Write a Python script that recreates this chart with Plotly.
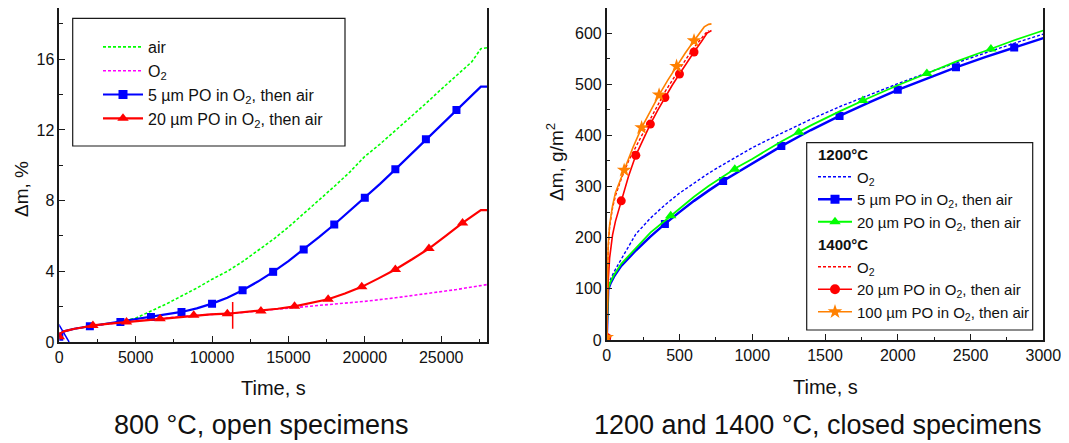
import plotly.graph_objects as go

# The page body adds an 8 px offset, so the figure is drawn 8 px smaller and
# all reference pixel positions are shifted by that amount.
OFF = 8
W, H = 1069 - OFF, 443 - OFF
FONT = "Liberation Sans, Arial, sans-serif"

# ---------------- Left panel: 800 °C, open specimens ----------------
t_air = [0, 100, 300, 600, 1000, 1500, 2000, 3000, 4000, 5000, 6000, 7000, 8000, 9000,
         10000, 11000, 12000, 13000, 14000, 15000, 16000, 17000, 18000, 19000, 20000,
         21000, 22000, 23000, 24000, 25000, 26000, 27000, 27600, 28000]
dm_air = [0.3, 0.5, 0.6, 0.68, 0.75, 0.82, 0.88, 1.0, 1.15, 1.35, 1.75, 2.15, 2.6, 3.05,
          3.55, 4.0, 4.55, 5.15, 5.8, 6.5, 7.25, 8.0, 8.8, 9.6, 10.5,
          11.2, 11.95, 12.75, 13.5, 14.3, 15.05, 15.85, 16.6, 16.65]

t_o2_800 = [0, 100, 300, 600, 1000, 1500, 2000, 4000, 6000, 8000, 10000, 12000, 14000,
            16000, 18000, 20000, 22000, 24000, 26000, 28000]
dm_o2_800 = [0.3, 0.5, 0.6, 0.68, 0.75, 0.82, 0.9, 1.1, 1.28, 1.45, 1.56, 1.67, 1.84,
             1.98, 2.12, 2.3, 2.5, 2.72, 2.97, 3.25]

t_po5_800 = [0, 100, 300, 600, 1000, 1500, 2000, 3000, 4000, 5000, 6000, 7000, 8000, 9000,
             10000, 11000, 12000, 13000, 14000, 15000, 16000, 17000, 18000, 19000, 20000,
             21000, 22000, 23000, 24000, 25000, 26000, 27000, 27600, 28000]
dm_po5_800 = [0.3, 0.5, 0.6, 0.68, 0.75, 0.82, 0.89, 1.0, 1.13, 1.27, 1.42, 1.55, 1.7, 1.9,
              2.17, 2.5, 2.93, 3.42, 3.97, 4.58, 5.23, 5.93, 6.65, 7.4, 8.16,
              8.95, 9.77, 10.6, 11.47, 12.3, 13.13, 13.95, 14.45, 14.45]
t_po5_800_mk = [0, 2000, 4000, 6000, 8000, 10000, 12000, 14000, 16000, 18000, 20000,
                22000, 24000, 26000]
dm_po5_800_mk = [0.3, 0.89, 1.13, 1.42, 1.7, 2.17, 2.93, 3.97, 5.23, 6.65, 8.16,
                 9.77, 11.47, 13.13]

t_po20_800 = [0, 100, 300, 600, 1000, 1500, 2200, 3300, 4400, 5500, 6600, 7700, 8800, 9900,
              11000, 12100, 13200, 14300, 15400, 16500, 17600, 18700, 19800, 20900, 22000,
              23100, 24200, 25300, 26400, 27600, 28000]
dm_po20_800 = [0.3, 0.5, 0.6, 0.68, 0.75, 0.82, 0.94, 1.04, 1.13, 1.23, 1.32, 1.42, 1.51, 1.56,
               1.6, 1.68, 1.76, 1.88, 2.02, 2.2, 2.42, 2.74, 3.12, 3.6, 4.1,
               4.68, 5.29, 6.0, 6.74, 7.46, 7.46]
t_po20_800_mk = [0, 2200, 4400, 6600, 8800, 11000, 13200, 15400, 17600, 19800, 22000,
                 24200, 26400]
dm_po20_800_mk = [0.3, 0.94, 1.13, 1.32, 1.51, 1.6, 1.76, 2.02, 2.42, 3.12, 4.1,
                  5.29, 6.74]

# stray straight blue segment near the origin and the red switch mark
t_blue_stray = [-220, 640]
dm_blue_stray = [1.27, 0.0]
t_red_mark = [11350, 11350]
dm_red_mark = [0.75, 2.27]

# ---------------- Right panel: 1200 and 1400 °C, closed specimens ----------------
t_1200 = [0, 5, 10, 25, 50, 100, 200, 300, 400, 500, 600, 700, 800, 900, 1000,
          1200, 1400, 1600, 1800, 2000, 2200, 2400, 2600, 2800, 3000]
dm_o2_1200 = [0, 75, 105, 118, 133, 158, 207, 238, 264, 287, 307, 326, 343, 360, 376,
              404, 431, 456, 479, 501, 522, 542, 561, 580, 598]
dm_po5_1200 = [0, 62, 98, 110, 124, 145, 175, 202, 227, 250, 272, 292, 311, 328, 345,
               379, 410, 438, 464, 489, 511, 533, 553, 572, 590]
dm_po20_1200 = [0, 62, 100, 113, 127, 149, 180, 210, 233, 257, 280, 301, 320, 338, 354,
                388, 419, 447, 473, 498, 521, 544, 565, 586, 605]
t_po5_1200_mk = [0, 400, 800, 1200, 1600, 2000, 2400, 2800]
dm_po5_1200_mk = [0, 227, 311, 379, 438, 489, 533, 572]
t_po20_1200_mk = [0, 440, 880, 1320, 1760, 2200, 2640]
dm_po20_1200_mk = [0, 243, 334, 406, 468, 521, 569]

t_o2_1400 = [0, 5, 10, 20, 40, 60, 100, 150, 200, 300, 400, 500, 600, 650, 690, 700]
dm_o2_1400 = [0, 110, 175, 222, 258, 282, 315, 350, 378, 432, 485, 530, 572, 590, 603, 605]
t_po20_1400 = [0, 5, 10, 20, 40, 60, 100, 150, 200, 250, 300, 350, 400, 450, 500, 550,
               600, 650, 690, 720]
dm_po20_1400 = [5, 85, 115, 160, 205, 232, 272, 320, 361, 393, 422, 449, 474, 498, 520, 542,
                563, 583, 600, 605]
t_po20_1400_mk = [0, 100, 200, 300, 400, 500, 600]
dm_po20_1400_mk = [5, 272, 361, 422, 474, 520, 563]
t_po100_1400 = [0, 5, 10, 20, 40, 60, 120, 180, 240, 300, 360, 420, 480, 540, 600, 640,
                670, 700, 720]
dm_po100_1400 = [5, 120, 185, 225, 262, 288, 332, 376, 415, 448, 479, 508, 535, 561, 585, 600,
                 612, 617, 618]
t_po100_1400_mk = [0, 120, 240, 360, 480, 600]
dm_po100_1400_mk = [5, 332, 415, 479, 535, 585]

# labels
x_title = "Time, s"
y_title_left = "\u0394m, %"
y_title_right = "\u0394m, g/m<sup>2</sup>"
caption_left = "800 \u00b0C, open specimens"
caption_right = "1200 and 1400 \u00b0C, closed specimens"

GREEN = "#00ff00"
MAGENTA = "#ff00ff"
BLUE = "#0000ff"
RED = "#ff0000"
ORANGE = "#ff8000"
DOT = "3px,2px"


def px(x):
    return min(max((x - OFF) / W, 0.0), 1.0)


def py(y):
    return min(max(1 - (y - OFF) / H, 0.0), 1.0)


fig = go.Figure()


def curve(x, y, color, width, dash=None, xa="x", ya="y"):
    fig.add_trace(go.Scatter(x=x, y=y, mode="lines", xaxis=xa, yaxis=ya,
                             line=dict(color=color, width=width, dash=dash),
                             showlegend=False, hoverinfo="skip"))


def marks(x, y, color, symbol, size, xa="x", ya="y"):
    fig.add_trace(go.Scatter(x=x, y=y, mode="markers", xaxis=xa, yaxis=ya,
                             marker=dict(color=color, symbol=symbol, size=size, line=dict(width=0)),
                             showlegend=False, hoverinfo="skip"))


def legend_entry(name, color, width, dash=None, symbol=None, size=8, legend="legend",
                 group=None, gtitle=None, xa="x", ya="y"):
    kw = {}
    if group:
        kw["legendgroup"] = group
        if gtitle:
            kw["legendgrouptitle"] = dict(text=gtitle, font=dict(family=FONT, size=15, color="#111"))
    fig.add_trace(go.Scatter(x=[None], y=[None], xaxis=xa, yaxis=ya, name=name,
                             mode="lines+markers" if symbol else "lines",
                             line=dict(color=color, width=width, dash=dash),
                             marker=dict(color=color, symbol=symbol or "circle", size=size,
                                         line=dict(width=0)),
                             legend=legend, showlegend=True, **kw))


# ---- left traces
curve(t_air, dm_air, GREEN, 1.6, DOT)
curve(t_o2_800, dm_o2_800, MAGENTA, 1.6, DOT)
curve(t_po5_800, dm_po5_800, BLUE, 2.2)
marks(t_po5_800_mk, dm_po5_800_mk, BLUE, "square", 8)
curve(t_blue_stray, dm_blue_stray, BLUE, 1.5)
curve(t_po20_800, dm_po20_800, RED, 2.2)
marks(t_po20_800_mk, dm_po20_800_mk, RED, "triangle-up", 10)
curve(t_red_mark, dm_red_mark, RED, 1.5)

legend_entry("air", GREEN, 1.6, DOT)
legend_entry("O<sub>2</sub>", MAGENTA, 1.6, DOT)
legend_entry("5 \u00b5m PO in O<sub>2</sub>, then air", BLUE, 2.2, None, "square", 9)
legend_entry("20 \u00b5m PO in O<sub>2</sub>, then air", RED, 2.2, None, "triangle-up", 10)

# ---- right traces
R = dict(xa="x2", ya="y2")
curve(t_1200, dm_o2_1200, BLUE, 1.4, DOT, **R)
curve(t_1200, dm_po5_1200, BLUE, 2.5, **R)
marks(t_po5_1200_mk, dm_po5_1200_mk, BLUE, "square", 8, **R)
curve(t_1200, dm_po20_1200, GREEN, 1.8, **R)
marks(t_po20_1200_mk, dm_po20_1200_mk, GREEN, "triangle-up", 10, **R)
curve(t_o2_1400, dm_o2_1400, RED, 1.4, DOT, **R)
curve(t_po20_1400, dm_po20_1400, RED, 1.6, **R)
marks(t_po20_1400_mk, dm_po20_1400_mk, RED, "circle", 9, **R)
curve(t_po100_1400, dm_po100_1400, ORANGE, 1.6, **R)
marks(t_po100_1400_mk, dm_po100_1400_mk, ORANGE, "star", 11, **R)

legend_entry("O<sub>2</sub>", BLUE, 1.4, DOT, legend="legend2", group="g1200",
             gtitle="<b>1200\u00b0C</b>", **R)
legend_entry("5 \u00b5m PO in O<sub>2</sub>, then air", BLUE, 2.5, None, "square", 9,
             legend="legend2", group="g1200", **R)
legend_entry("20 \u00b5m PO in O<sub>2</sub>, then air", GREEN, 1.8, None, "triangle-up", 10,
             legend="legend2", group="g1200", **R)
legend_entry("O<sub>2</sub>", RED, 1.4, DOT, legend="legend2", group="g1400",
             gtitle="<b>1400\u00b0C</b>", **R)
legend_entry("20 \u00b5m PO in O<sub>2</sub>, then air", RED, 1.6, None, "circle", 10,
             legend="legend2", group="g1400", **R)
legend_entry("100 \u00b5m PO in O<sub>2</sub>, then air", ORANGE, 1.6, None, "star", 11,
             legend="legend2", group="g1400", **R)

axis_common = dict(showline=True, linecolor="#1a1a1a", linewidth=1.5, mirror=True,
                   ticks="inside", ticklen=6, tickwidth=1.3, tickcolor="#1a1a1a",
                   showgrid=False, zeroline=False, automargin=False, tickformat="d",
                   tickfont=dict(family=FONT, size=16, color="#111"))
minor_common = dict(ticks="inside", ticklen=3.5, tickwidth=1.2, tickcolor="#1a1a1a")


def ann(text, x, y, size, angle=0):
    return dict(text=text, x=px(x), y=py(y), xref="paper", yref="paper",
                xanchor="center", yanchor="middle", textangle=angle, showarrow=False,
                font=dict(family=FONT, size=size, color="#111"))


fig.update_layout(
    width=W, height=H,
    margin=dict(l=0, r=0, t=0, b=0),
    paper_bgcolor="white", plot_bgcolor="white",
    font=dict(family=FONT, color="#111"),
    xaxis=dict(domain=[px(59.3), px(487)], range=[0, 28000], tick0=0, dtick=5000,
               minor=dict(dtick=2500, **minor_common), anchor="y", **axis_common),
    yaxis=dict(domain=[py(342), py(8)], range=[0, 18.9], tick0=0, dtick=4,
               minor=dict(dtick=2, **minor_common), anchor="x", **axis_common),
    xaxis2=dict(domain=[px(606.7), px(1043.3)], range=[0, 3000], tick0=0, dtick=500,
                minor=dict(dtick=250, **minor_common), anchor="y2", **axis_common),
    yaxis2=dict(domain=[py(340), py(8)], range=[0, 649], tick0=0, dtick=100,
                minor=dict(dtick=50, **minor_common), anchor="x2", **axis_common),
    legend=dict(x=px(98), y=py(30), xanchor="left", yanchor="top",
                bgcolor="rgba(0,0,0,0)", borderwidth=0, itemwidth=40,
                font=dict(family=FONT, size=16, color="#111"), tracegroupgap=0),
    legend2=dict(x=px(813), y=py(138), xanchor="left", yanchor="top",
                 bgcolor="rgba(0,0,0,0)", borderwidth=0, itemwidth=34,
                 font=dict(family=FONT, size=15, color="#111"), tracegroupgap=0,
                 traceorder="grouped"),
    shapes=[
        dict(type="rect", xref="paper", yref="paper", x0=px(72.7), x1=px(345),
             y0=py(146), y1=py(18.3), line=dict(color="#1a1a1a", width=1.2), layer="above"),
        dict(type="rect", xref="paper", yref="paper", x0=px(806.7), x1=px(1032.7),
             y0=py(330), y1=py(142.7), line=dict(color="#1a1a1a", width=1.2), layer="above"),
    ],
    annotations=[
        ann(y_title_left, 21, 189, 19, -90),
        ann(y_title_right, 555, 162, 19, -90),
        ann(x_title, 273, 388, 20),
        ann(x_title, 825, 387, 20),
        ann(caption_left, 261, 425, 27),
        ann(caption_right, 818, 425, 27),
    ],
)

fig.write_html("out.html")
